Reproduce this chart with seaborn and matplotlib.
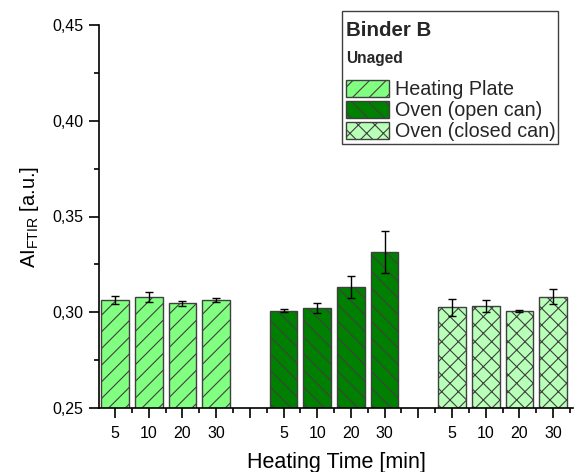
import numpy as np
import pandas as pd
import matplotlib
matplotlib.use("Agg")
import matplotlib.pyplot as plt
import seaborn as sns
from matplotlib.patches import Patch, Rectangle
from matplotlib.ticker import FuncFormatter, MultipleLocator, FixedLocator

# ---- data ----
times = ["5", "10", "20", "30"]
methods = ["Heating Plate", "Oven (open can)", "Oven (closed can)"]
heating_plate = [0.3064, 0.3080, 0.3047, 0.3064]
heating_plate_err = [0.0021, 0.0024, 0.0014, 0.0013]
oven_open = [0.3008, 0.3022, 0.3133, 0.3315]
oven_open_err = [0.0009, 0.0028, 0.0057, 0.0110]
oven_closed = [0.3026, 0.3033, 0.3005, 0.3081]
oven_closed_err = [0.0044, 0.0032, 0.0005, 0.0038]

colors = ["#80FF80", "#008000", "#B8FFB8"]
hatches = ["//", "\\\\", "xx"]

sns.set_style("white")
plt.rcParams["font.family"] = ["Liberation Sans", "DejaVu Sans"]
plt.rcParams["mathtext.fontset"] = "custom"
plt.rcParams["mathtext.rm"] = "Liberation Sans"
plt.rcParams["mathtext.it"] = "Liberation Sans:italic"
plt.rcParams["hatch.linewidth"] = 0.8
plt.rcParams["hatch.color"] = "#1a1a1a"

values = [heating_plate, oven_open, oven_closed]
errors = [heating_plate_err, oven_open_err, oven_closed_err]
rows = []
for g, (m, v, e) in enumerate(zip(methods, values, errors)):
    for i, t in enumerate(times):
        rows.append({"pos": g * 5 + i, "value": v[i], "err": e[i], "method": m, "time": t})
df = pd.DataFrame(rows)

fig = plt.figure(figsize=(5.76, 4.72), dpi=100)
ax = fig.add_axes([99 / 576, 64 / 472, 474 / 576, 383 / 472])

sns.barplot(data=df, x="pos", y="value", hue="method", hue_order=methods,
            palette=colors, saturation=1, native_scale=True, dodge=False, width=0.82,
            errorbar=None, edgecolor="#404040", linewidth=1.0, legend=False,
            ax=ax)
for cont, h in zip(ax.containers, hatches):
    for p in cont:
        p.set_hatch(h)

ax.errorbar(df["pos"], df["value"], yerr=df["err"], fmt="none",
            ecolor="black", elinewidth=1.0, capsize=2.8, capthick=1.0, zorder=5)

ax.set_ylim(0.25, 0.45)
ax.set_xlim(-0.475, 13.59)
ax.yaxis.set_major_locator(MultipleLocator(0.05))
ax.yaxis.set_minor_locator(MultipleLocator(0.025))
ax.yaxis.set_major_formatter(FuncFormatter(lambda v, p: f"{v:.2f}".replace(".", ",")))

xt = list(range(14))
xl = []
for k in xt:
    xl.append(times[k % 5] if k % 5 < 4 else "")
ax.xaxis.set_major_locator(FixedLocator(xt))
ax.set_xticklabels(xl)
ax.xaxis.set_minor_locator(FixedLocator([k + 0.5 for k in range(-1, 14)]))

ax.tick_params(axis="both", which="major", direction="out", length=7, width=1.2,
               color="black", labelsize=11.5, labelcolor="black")
ax.tick_params(axis="both", which="minor", direction="out", length=3.5, width=1.2,
               color="black")
ax.tick_params(axis="x", which="major", pad=6)
ax.tick_params(axis="y", which="major", pad=4)
ax.tick_params(bottom=True, left=True, which="both")

for s in ["top", "right"]:
    ax.spines[s].set_visible(False)
for s in ["left", "bottom"]:
    ax.spines[s].set_color("black")
    ax.spines[s].set_linewidth(1.2)

ax.set_xlabel("Heating Time [min]", fontsize=15.5, color="black", labelpad=8)
ax.set_ylabel(r"AI$_{\mathrm{FTIR}}$ [a.u.]", fontsize=14.5, color="black", labelpad=8)

# legend box
fig.patches.append(Rectangle((342 / 576, 1 - 144 / 472), 216 / 576, 133 / 472,
                             transform=fig.transFigure, facecolor="white",
                             edgecolor="#404040", linewidth=1.0, zorder=10))
fig.text(346 / 576, 1 - 30 / 472, "Binder B", fontsize=14.8, fontweight="bold",
         va="center", ha="left", zorder=11)
fig.text(346 / 576, 1 - 59 / 472, "Unaged", fontsize=11.2, fontweight="bold",
         va="center", ha="left", zorder=11)
handles = [Patch(facecolor=c, edgecolor="#404040", hatch=h, linewidth=1.0, label=m)
           for c, h, m in zip(colors, hatches, methods)]
leg = fig.legend(handles=handles, loc="upper left",
                 bbox_to_anchor=(346 / 576, 1 - 80 / 472), frameon=False,
                 fontsize=14.2, handlelength=2.2, handleheight=0.95,
                 handletextpad=0.3, labelspacing=0.08, borderpad=0,
                 borderaxespad=0)
leg.set_zorder(12)

fig.savefig("out.png", dpi=100)
